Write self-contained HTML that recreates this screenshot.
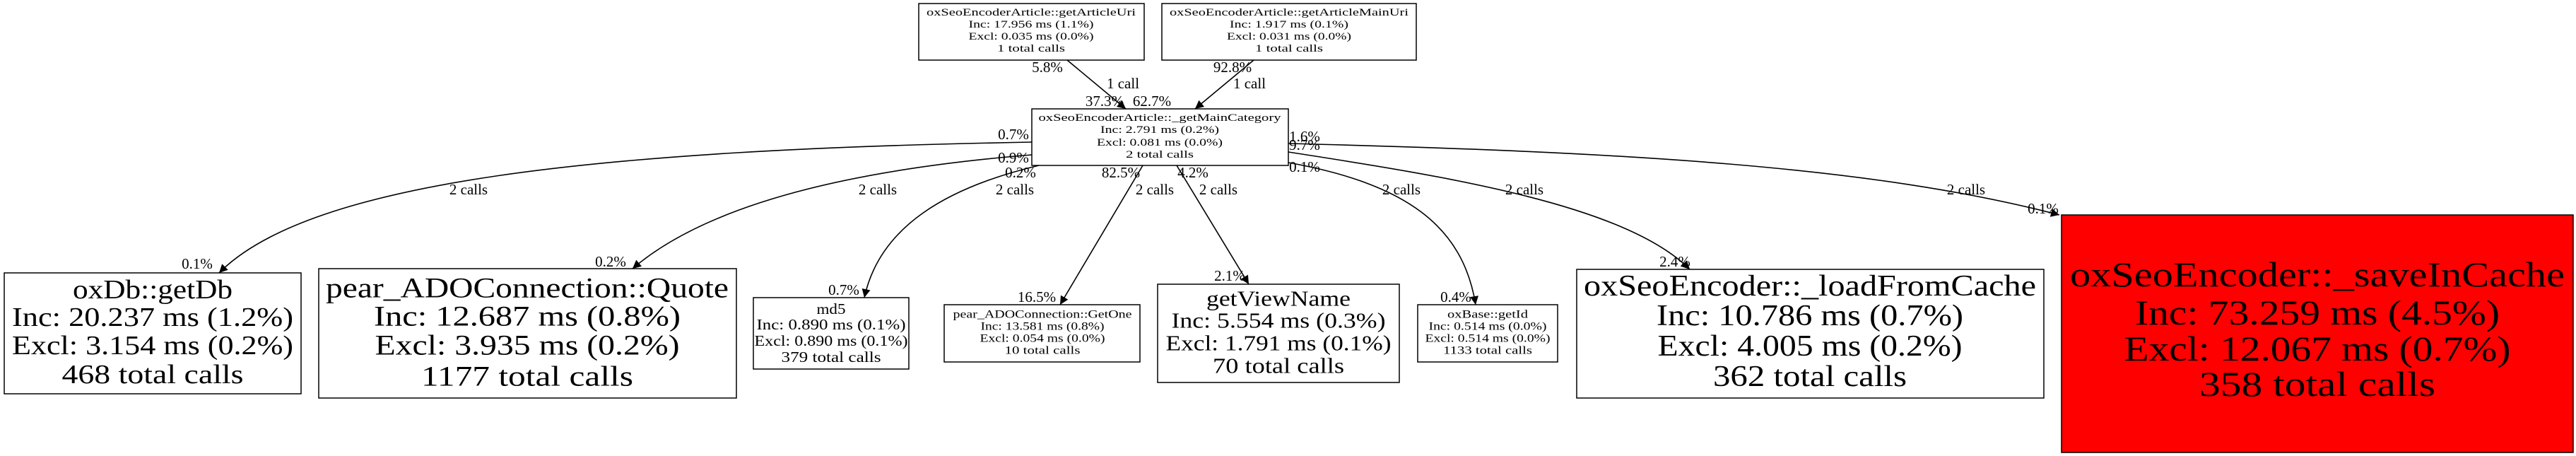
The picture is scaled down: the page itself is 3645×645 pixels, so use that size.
<!DOCTYPE html>
<html><head><meta charset="utf-8"><style>
html,body{margin:0;padding:0;background:#fff;}
svg{display:block;font-family:"Liberation Serif",serif;}
text{text-anchor:middle;dominant-baseline:central;fill:#000;}
.e{fill:none;stroke:#000;stroke-width:1.6;marker-end:url(#a);}
.l{font-size:21px;}
</style></head><body>
<svg width="3645" height="645" viewBox="0 0 3645 645" xmlns="http://www.w3.org/2000/svg">
<defs><marker id="a" viewBox="0 0 10 10" refX="10" refY="5" markerWidth="14" markerHeight="12" markerUnits="userSpaceOnUse" orient="auto"><path d="M0,0L10,5L0,10z" fill="#000"/></marker></defs>

<rect x="1300" y="5" width="319" height="80" fill="#fff" stroke="#000" stroke-width="1.5"/>
<text x="1459" y="18" font-size="15" textLength="296" lengthAdjust="spacingAndGlyphs">oxSeoEncoderArticle::getArticleUri</text>
<text x="1459" y="35" font-size="15" textLength="177" lengthAdjust="spacingAndGlyphs">Inc: 17.956 ms (1.1%)</text>
<text x="1459" y="52" font-size="15" textLength="177" lengthAdjust="spacingAndGlyphs">Excl: 0.035 ms (0.0%)</text>
<text x="1459" y="69" font-size="15" textLength="96" lengthAdjust="spacingAndGlyphs">1 total calls</text>

<rect x="1644" y="5" width="360" height="80" fill="#fff" stroke="#000" stroke-width="1.5"/>
<text x="1824" y="18" font-size="15" textLength="338" lengthAdjust="spacingAndGlyphs">oxSeoEncoderArticle::getArticleMainUri</text>
<text x="1824" y="35" font-size="15" textLength="168" lengthAdjust="spacingAndGlyphs">Inc: 1.917 ms (0.1%)</text>
<text x="1824" y="52" font-size="15" textLength="176" lengthAdjust="spacingAndGlyphs">Excl: 0.031 ms (0.0%)</text>
<text x="1824" y="69" font-size="15" textLength="96" lengthAdjust="spacingAndGlyphs">1 total calls</text>

<rect x="1460" y="154" width="363" height="80" fill="#fff" stroke="#000" stroke-width="1.5"/>
<text x="1641" y="167" font-size="15" textLength="343" lengthAdjust="spacingAndGlyphs">oxSeoEncoderArticle::_getMainCategory</text>
<text x="1641" y="184" font-size="15" textLength="168" lengthAdjust="spacingAndGlyphs">Inc: 2.791 ms (0.2%)</text>
<text x="1641" y="202" font-size="15" textLength="178" lengthAdjust="spacingAndGlyphs">Excl: 0.081 ms (0.0%)</text>
<text x="1641" y="219" font-size="15" textLength="96" lengthAdjust="spacingAndGlyphs">2 total calls</text>

<rect x="6" y="386" width="420" height="171" fill="#fff" stroke="#000" stroke-width="1.5"/>
<text x="216" y="410" font-size="38" textLength="226" lengthAdjust="spacingAndGlyphs">oxDb::getDb</text>
<text x="216" y="449" font-size="38" textLength="398" lengthAdjust="spacingAndGlyphs">Inc: 20.237 ms (1.2%)</text>
<text x="216" y="489" font-size="38" textLength="398" lengthAdjust="spacingAndGlyphs">Excl: 3.154 ms (0.2%)</text>
<text x="216" y="530" font-size="38" textLength="257" lengthAdjust="spacingAndGlyphs">468 total calls</text>

<rect x="451" y="380" width="591" height="183" fill="#fff" stroke="#000" stroke-width="1.5"/>
<text x="746" y="407" font-size="40" textLength="570" lengthAdjust="spacingAndGlyphs">pear_ADOConnection::Quote</text>
<text x="746" y="447" font-size="40" textLength="434" lengthAdjust="spacingAndGlyphs">Inc: 12.687 ms (0.8%)</text>
<text x="746" y="488" font-size="40" textLength="431" lengthAdjust="spacingAndGlyphs">Excl: 3.935 ms (0.2%)</text>
<text x="746" y="532" font-size="40" textLength="300" lengthAdjust="spacingAndGlyphs">1177 total calls</text>

<rect x="1066" y="421" width="220" height="101" fill="#fff" stroke="#000" stroke-width="1.5"/>
<text x="1176" y="437" font-size="21" textLength="41" lengthAdjust="spacingAndGlyphs">md5</text>
<text x="1176" y="459" font-size="21" textLength="211" lengthAdjust="spacingAndGlyphs">Inc: 0.890 ms (0.1%)</text>
<text x="1176" y="482" font-size="21" textLength="217" lengthAdjust="spacingAndGlyphs">Excl: 0.890 ms (0.1%)</text>
<text x="1176" y="505" font-size="21" textLength="141" lengthAdjust="spacingAndGlyphs">379 total calls</text>

<rect x="1336" y="431" width="277" height="81" fill="#fff" stroke="#000" stroke-width="1.5"/>
<text x="1475" y="445" font-size="16" textLength="253" lengthAdjust="spacingAndGlyphs">pear_ADOConnection::GetOne</text>
<text x="1475" y="462" font-size="16" textLength="175" lengthAdjust="spacingAndGlyphs">Inc: 13.581 ms (0.8%)</text>
<text x="1475" y="479" font-size="16" textLength="177" lengthAdjust="spacingAndGlyphs">Excl: 0.054 ms (0.0%)</text>
<text x="1475" y="496" font-size="16" textLength="107" lengthAdjust="spacingAndGlyphs">10 total calls</text>

<rect x="1638" y="402" width="342" height="139" fill="#fff" stroke="#000" stroke-width="1.5"/>
<text x="1809" y="422" font-size="31" textLength="204" lengthAdjust="spacingAndGlyphs">getViewName</text>
<text x="1809" y="453" font-size="31" textLength="303" lengthAdjust="spacingAndGlyphs">Inc: 5.554 ms (0.3%)</text>
<text x="1809" y="485" font-size="31" textLength="319" lengthAdjust="spacingAndGlyphs">Excl: 1.791 ms (0.1%)</text>
<text x="1809" y="517" font-size="31" textLength="186" lengthAdjust="spacingAndGlyphs">70 total calls</text>

<rect x="2006" y="431" width="198" height="81" fill="#fff" stroke="#000" stroke-width="1.5"/>
<text x="2105" y="445" font-size="16" textLength="114" lengthAdjust="spacingAndGlyphs">oxBase::getId</text>
<text x="2105" y="462" font-size="16" textLength="167" lengthAdjust="spacingAndGlyphs">Inc: 0.514 ms (0.0%)</text>
<text x="2105" y="479" font-size="16" textLength="177" lengthAdjust="spacingAndGlyphs">Excl: 0.514 ms (0.0%)</text>
<text x="2105" y="496" font-size="16" textLength="126" lengthAdjust="spacingAndGlyphs">1133 total calls</text>

<rect x="2231" y="381" width="661" height="182" fill="#fff" stroke="#000" stroke-width="1.5"/>
<text x="2561" y="405" font-size="42" textLength="640" lengthAdjust="spacingAndGlyphs">oxSeoEncoder::_loadFromCache</text>
<text x="2561" y="447" font-size="42" textLength="434" lengthAdjust="spacingAndGlyphs">Inc: 10.786 ms (0.7%)</text>
<text x="2561" y="490" font-size="42" textLength="431" lengthAdjust="spacingAndGlyphs">Excl: 4.005 ms (0.2%)</text>
<text x="2561" y="533" font-size="42" textLength="274" lengthAdjust="spacingAndGlyphs">362 total calls</text>

<rect x="2917" y="304" width="724" height="336" fill="#ff0000" stroke="#000" stroke-width="1.5"/>
<text x="3279" y="388" font-size="50" textLength="700" lengthAdjust="spacingAndGlyphs">oxSeoEncoder::_saveInCache</text>
<text x="3279" y="442" font-size="50" textLength="516" lengthAdjust="spacingAndGlyphs">Inc: 73.259 ms (4.5%)</text>
<text x="3279" y="493" font-size="50" textLength="547" lengthAdjust="spacingAndGlyphs">Excl: 12.067 ms (0.7%)</text>
<text x="3279" y="543" font-size="50" textLength="334" lengthAdjust="spacingAndGlyphs">358 total calls</text>

<path class="e" d="M1510,85 L1593,154"/>
<path class="e" d="M1774,85 L1691,154"/>
<path class="e" d="M1460,201 C850,212 440,255 310,386"/>
<path class="e" d="M1460,219 C1200,240 1000,290 895,380"/>
<path class="e" d="M1470,234 C1340,265 1245,320 1223,421"/>
<path class="e" d="M1617,234 L1500,431"/>
<path class="e" d="M1665,234 L1767,402"/>
<path class="e" d="M1823,230 C1990,260 2070,320 2088,431"/>
<path class="e" d="M1823,215 C2050,250 2300,290 2391,381"/>
<path class="e" d="M1823,203 C2300,215 2650,235 2914,304"/>

<g class="l">
<text x="1589" y="118">1 call</text>
<text x="1768" y="118">1 call</text>
<text x="1482" y="95">5.8%</text>
<text x="1744" y="95">92.8%</text>
<text x="1563" y="143">37.3%</text>
<text x="1630" y="143">62.7%</text>
<text x="1434" y="190">0.7%</text>
<text x="1434" y="223">0.9%</text>
<text x="1444" y="244">0.2%</text>
<text x="1586" y="244">82.5%</text>
<text x="1688" y="244">4.2%</text>
<text x="1846" y="193">1.6%</text>
<text x="1846" y="205">9.7%</text>
<text x="1846" y="236">0.1%</text>
<text x="663" y="268">2 calls</text>
<text x="1242" y="268">2 calls</text>
<text x="1436" y="268">2 calls</text>
<text x="1634" y="268">2 calls</text>
<text x="1724" y="268">2 calls</text>
<text x="1983" y="268">2 calls</text>
<text x="2157" y="268">2 calls</text>
<text x="2782" y="268">2 calls</text>
<text x="279" y="373">0.1%</text>
<text x="864" y="370">0.2%</text>
<text x="1194" y="410">0.7%</text>
<text x="1467" y="420">16.5%</text>
<text x="1740" y="390">2.1%</text>
<text x="2060" y="420">0.4%</text>
<text x="2370" y="370">2.4%</text>
<text x="2891" y="295">0.1%</text>
</g>
</svg>
</body></html>
